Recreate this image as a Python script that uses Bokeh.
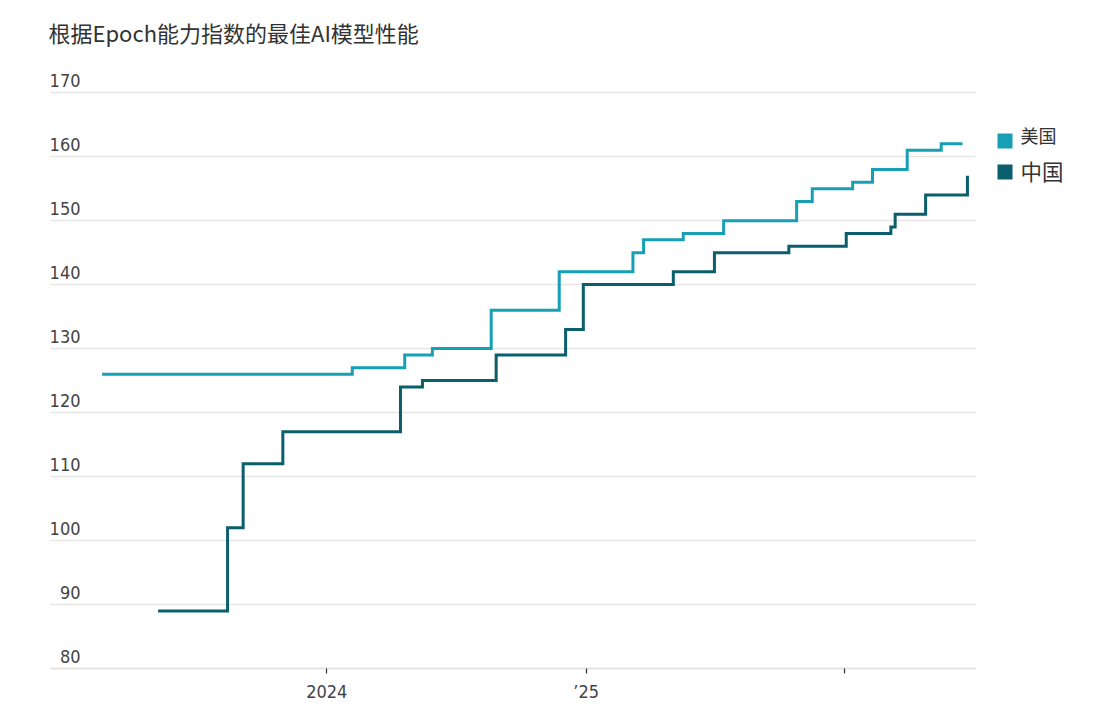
import pandas as pd
from bokeh.plotting import figure
from bokeh.layouts import row
from bokeh.models import Range1d, FixedTicker, Grid, ColumnDataSource
from bokeh.core.properties import value
from bokeh.embed import file_html
from bokeh.resources import INLINE

# ---------------- data ----------------
title_text = "根据Epoch能力指数的最佳AI模型性能"
us_label = "美国"
cn_label = "中国"

us_dates = ["2023-02-18", "2024-02-06", "2024-04-20", "2024-05-29", "2024-08-20",
            "2024-11-24", "2025-03-08", "2025-03-23", "2025-05-18", "2025-07-14",
            "2025-10-25", "2025-11-16", "2026-01-12", "2026-02-09", "2026-03-30",
            "2026-05-17", "2026-06-16"]
us_values = [126, 127, 129, 130, 136, 142, 145, 147, 148, 150, 153, 155, 156, 158,
             161, 162, 162]

cn_dates = ["2023-05-08", "2023-08-14", "2023-09-05", "2023-10-31", "2024-04-14",
            "2024-05-15", "2024-08-27", "2024-12-03", "2024-12-28", "2025-05-04",
            "2025-07-01", "2025-10-14", "2026-01-03", "2026-03-07", "2026-03-13",
            "2026-04-25", "2026-06-23"]
cn_values = [89, 102, 112, 117, 124, 125, 129, 133, 140, 142, 145, 146, 148, 149,
             151, 154, 157]

y_ticks = [80, 90, 100, 110, 120, 130, 140, 150, 160, 170]
x_tick_dates = ["2024-01-01", "2025-01-01", "2026-01-01"]
x_tick_labels = ["2024", "’25", ""]

US_COLOR = "#17a0b5"
CN_COLOR = "#0b5e6b"
TEXT_COLOR = "#444444"
GRID_COLOR = "#e6e6e6"
NUM_FONT = "DejaVu Sans Condensed"
CJK_FONT = "Noto Sans CJK SC"

# ---------------- layout ----------------
W, H = 976, 708
BL, BR, BT, BB = 50, 0, 60, 40
frame_w = W - BL - BR
frame_h = H - BT - BB
LEG_W = 121


def ms(d):
    return pd.Timestamp(d).value / 1e6


px_per_year = 258.85
tick0_px = 276.28
year_ms = 365.25 * 86400000
x_start = ms("2024-01-01") - tick0_px / px_per_year * year_ms
x_end = ms("2024-01-01") + (frame_w - tick0_px) / px_per_year * year_ms
y_end = 80 + frame_h / 6.398

p = figure(width=W, height=H, x_axis_type="datetime", y_axis_location=None,
           x_range=Range1d(x_start, x_end), y_range=Range1d(80, y_end),
           output_backend="svg", toolbar_location=None,
           min_border_left=BL, min_border_right=BR, min_border_top=BT,
           min_border_bottom=BB)
p.extra_x_ranges = {"px": Range1d(0, frame_w)}
p.outline_line_color = None
p.background_fill_color = "white"
p.border_fill_color = "white"
p.xgrid.visible = False

p.title.text = title_text
p.title.align = "left"
p.title.offset = -2
p.title.standoff = 25
p.title.text_font = CJK_FONT
p.title.text_font_size = "22px"
p.title.text_font_style = "normal"
p.title.text_color = "#333333"

p.add_layout(Grid(dimension=1, ticker=FixedTicker(ticks=y_ticks),
                  grid_line_color=GRID_COLOR, grid_line_width=1.5))

# x axis
xt = [ms(d) for d in x_tick_dates]
p.xaxis.ticker = FixedTicker(ticks=xt)
p.xaxis.major_label_overrides = {t: lab for t, lab in zip(xt, x_tick_labels)}
p.xaxis.minor_tick_line_color = None
p.xaxis.major_tick_in = 0
p.xaxis.major_tick_out = 5
p.xaxis.major_tick_line_color = "#333333"
p.xaxis.major_tick_line_width = 1.2
p.xaxis.axis_line_color = GRID_COLOR
p.xaxis.axis_line_width = 2
p.xaxis.major_label_text_font = NUM_FONT
p.xaxis.major_label_text_font_size = "18px"
p.xaxis.major_label_text_color = TEXT_COLOR
p.xaxis.major_label_standoff = 7

# y tick labels above gridlines
ysrc = ColumnDataSource(dict(x=[30] * len(y_ticks), y=y_ticks,
                             t=[str(v) for v in y_ticks]))
p.text(x="x", y="y", text="t", source=ysrc, x_range_name="px",
       text_align="right", text_baseline="bottom", y_offset=-6,
       text_font=value(NUM_FONT), text_font_size="18px", text_color=TEXT_COLOR)

# series
us_src = ColumnDataSource(dict(d=pd.to_datetime(us_dates), v=us_values))
cn_src = ColumnDataSource(dict(d=pd.to_datetime(cn_dates), v=cn_values))
p.step(x="d", y="v", source=us_src, mode="after", line_width=3,
       line_color=US_COLOR, line_join="miter")
p.step(x="d", y="v", source=cn_src, mode="after", line_width=3,
       line_color=CN_COLOR, line_join="miter")

# legend panel (pixel coordinates: x from panel left, y from page top)
q = figure(width=LEG_W, height=H, x_range=Range1d(0, LEG_W),
           y_range=Range1d(H - BB, BT),
           x_axis_location=None, y_axis_location=None,
           min_border_left=0, min_border_right=0, min_border_top=BT,
           min_border_bottom=BB,
           output_backend="svg", toolbar_location=None)
q.outline_line_color = None
q.background_fill_color = "white"
q.border_fill_color = "white"
for g in q.grid:
    g.visible = False

q.rect(x=[28.5, 28.5], y=[140.5, 171.5], width=15, height=15,
       width_units="screen", height_units="screen",
       fill_color=[US_COLOR, CN_COLOR], line_color=None)
q.text(x=[44], y=[134.5], text=[us_label], text_font=value(CJK_FONT),
       text_font_size="18px", text_baseline="middle", text_color="#333333")
q.text(x=[44], y=[170], text=[cn_label], text_font=value(CJK_FONT),
       text_font_size="21.5px", text_baseline="middle", text_color="#333333")

open("out.html", "w").write(file_html(row(p, q), INLINE))
